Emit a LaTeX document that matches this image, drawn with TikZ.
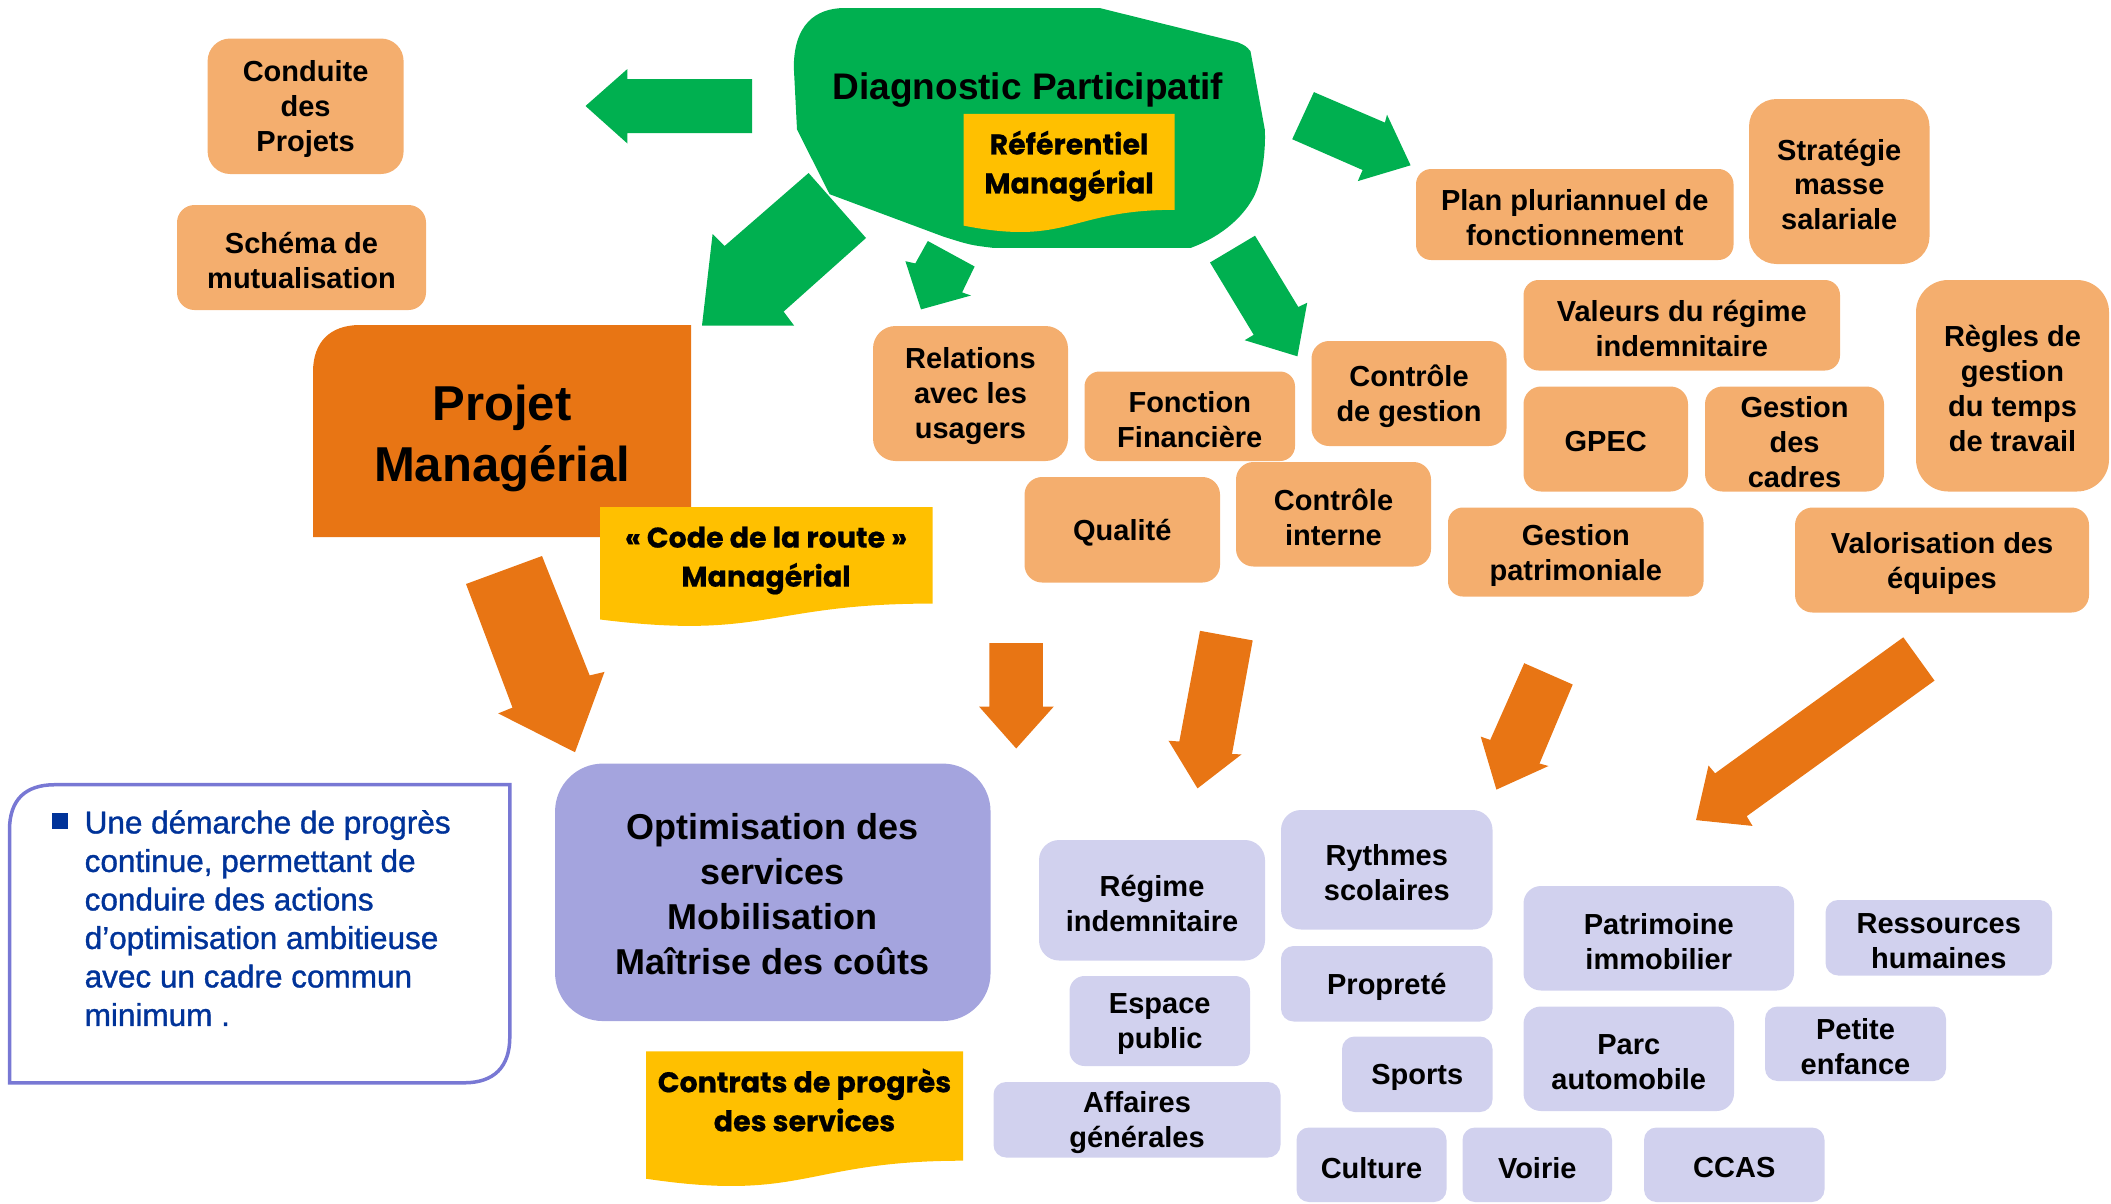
\documentclass[tikz,border=0pt]{standalone}
\usepackage{fontspec}
\setmainfont{Liberation Sans}
\newfontfamily\bannerfont{Poppins}[BoldFeatures={FakeBold=0.6}]
\newfontfamily\notefont{Liberation Sans}[FakeBold=1.1]

\definecolor{agreen}{HTML}{00B050}
\definecolor{ayellow}{HTML}{FFC000}
\definecolor{aorange}{HTML}{E87514}
\definecolor{lorange}{HTML}{F4AE6E}
\definecolor{lpurple}{HTML}{D1D1EE}
\definecolor{mpurple}{HTML}{A4A4DE}
\definecolor{bluebd}{HTML}{7878D4}
\definecolor{bluetxt}{HTML}{003399}

\tikzset{
  shape box/.style={inner sep=0pt, draw=none},
  plain txt/.style={inner sep=0pt, align=center, text=black,
    font=\bfseries\fontsize{29}{35}\selectfont},
  txt/.style={plain txt, yshift=-3pt},
  obox/.style={shape box, fill=lorange},
  pbox/.style={shape box, fill=lpurple},
  bannertxt/.style={inner sep=0pt, align=center, text=black,
    font=\bannerfont\bfseries\fontsize{28.5}{39}\selectfont},
  garrow/.style={fill=agreen},
  oarrow/.style={fill=aorange},
  ybanner/.style={fill=ayellow},
}

% rounded box with its label: [style]{name}{x1}{y1}{x2}{y2}{text}
\newcommand\rbox[7][]{%
  \pgfmathsetmacro\bw{#5-#3}%
  \pgfmathsetmacro\bh{#6-#4}%
  \pgfmathsetmacro\br{min(\bw,\bh)/6}%
  \node[#1,minimum width=\bw pt,minimum height=\bh pt,rounded corners=\br pt]
    (#2) at ({(#3+#5)/2},{(#4+#6)/2}) {};
  \node[txt] (#2-label) at (#2.center) {#7};}

% wavy "document" banner: {x0}{y0}{x1}{h}
\newcommand\banner[4]{%
  \fill[ybanner] (#1,#2) -- (#3,#2) -- (#3,{#2+0.802*#4})
    .. controls ({(#1+#3)/2},{#2+0.802*#4}) and ({(#1+#3)/2},{#2+1.1076*#4})
    .. (#1,{#2+0.934*#4}) -- cycle;}

\begin{document}
\begin{tikzpicture}[x=1pt,y=-1pt]
\useasboundingbox (0,0) rectangle (2111,1203);

% ---------- green block arrows ----------
\fill[garrow] (752,79) -- (627.4,79) -- (627.4,69) -- (585.5,106) -- (627.4,143.5) -- (627.4,133) -- (752,133) -- cycle;
\fill[garrow] (808.6,173) -- (866,238) -- (783.6,311.6) -- (794,325.5) -- (702,325.5) -- (712.6,234) -- (724.6,246) -- cycle;
\fill[garrow] (927.8,241) -- (974.6,266.5) -- (962.1,292.4) -- (971,295.5) -- (921,309.4) -- (905.4,261.2) -- (915.3,263.4) -- cycle;
\fill[garrow] (1255,235.7) -- (1298.3,307) -- (1307.2,302.7) -- (1297.4,356.3) -- (1244.7,340.2) -- (1253.7,334.8) -- (1210,262.5) -- cycle;
\fill[garrow] (1313.9,92.1) -- (1384.9,122.6) -- (1387,114.7) -- (1410.6,165.3) -- (1357.8,181.1) -- (1362.6,170) -- (1292.2,139.2) -- cycle;

% ---------- orange block arrows ----------
\fill[oarrow] (466,584) -- (542,556) -- (589.7,675.4) -- (604.5,671.9) -- (575,752.2) -- (498.2,713.4) -- (512.5,707.6) -- cycle;
\fill[oarrow] (989.3,643) -- (1042.9,643) -- (1042.9,706.5) -- (1053.8,706.5) -- (1016.2,748.5) -- (979,706.5) -- (989.3,706.5) -- cycle;
\fill[oarrow] (1200,630.8) -- (1252.7,640.4) -- (1232,754) -- (1241.5,754.4) -- (1197.5,788.4) -- (1168.5,740.7) -- (1179.3,741.5) -- cycle;
\fill[oarrow] (1524.2,663.2) -- (1572.7,684.5) -- (1539.5,763.5) -- (1548.5,766) -- (1496.4,789.6) -- (1480.7,736.6) -- (1490.2,739.9) -- cycle;
\fill[oarrow] (1903.3,637.3) -- (1934.5,680.6) -- (1746.7,816.2) -- (1752.5,825.9) -- (1696,820.1) -- (1708.5,765.5) -- (1715.1,773.3) -- cycle;

% ---------- Diagnostic participatif ----------
\fill[agreen] (793.8,67) .. controls (794,25) and (815,8) .. (845,8) -- (1099.6,8) -- (1238,42.4)
  .. controls (1246,46) .. (1250.5,51.3) -- (1264.8,129.5)
  .. controls (1266,150) and (1262,185) .. (1251.4,200.9)
  .. controls (1243,215) and (1225,235) .. (1191,247.8) -- (992.5,247.8)
  .. controls (970,245) .. (943.4,236.6) -- (829.6,194.2) -- (797,129.5) -- cycle;
\node[plain txt, anchor=base, font=\bfseries\fontsize{37}{44}\selectfont] (diag) at (1028,99) {Diagnostic Participatif};
\banner{963.5}{113.8}{1174.6}{119.7}
\node[bannertxt] (referentiel) at (1069,166) {Référentiel\\Managérial};

% ---------- left column ----------
\rbox[obox]{conduite}{207.6}{38.5}{403.6}{174}{Conduite\\des\\Projets}
\rbox[obox]{schema}{177}{205}{426}{310}{Schéma de\\mutualisation}

\fill[aorange] (313,537) -- (313,372) .. controls (313,342) and (330,325) .. (360,325) -- (691,325) -- (691,537) -- cycle;
\node[plain txt, font=\bfseries\fontsize{49}{60.5}\selectfont] (projet) at (502,438.5) {Projet\\Managérial};
\banner{600}{507}{932.6}{120.4}
\node[bannertxt] (coderoute) at (766,560.5) {«~Code de la route~»\\Managérial};

% ---------- upper right boxes ----------
\rbox[obox]{relations}{873}{326}{1068}{461}{Relations\\avec les\\usagers}
\rbox[obox]{fonction}{1084.5}{371.5}{1295}{461}{Fonction\\Financière}
\rbox[obox]{ctrlgestion}{1311.5}{341}{1506.5}{446}{Contrôle\\de gestion}
\rbox[obox]{qualite}{1024.5}{477}{1220}{582.5}{Qualité}
\rbox[obox]{ctrlinterne}{1236}{462}{1431}{566.5}{Contrôle\\interne}
\rbox[obox]{plan}{1416}{169}{1733.5}{260}{Plan pluriannuel de\\fonctionnement}
\rbox[obox]{strategie}{1749}{99}{1929.5}{264}{Stratégie\\masse\\salariale}
\rbox[obox]{valeurs}{1523.5}{280}{1840}{370.5}{Valeurs du régime\\indemnitaire}
\rbox[obox]{regles}{1916}{280}{2109}{491.5}{Règles de\\gestion\\du temps\\de travail}
\rbox[obox]{gpec}{1523.5}{386.5}{1688}{491.5}{GPEC}
\rbox[obox]{cadres}{1705}{386.5}{1884}{491.5}{Gestion\\des\\cadres}
\rbox[obox]{patrimoniale}{1448}{507.5}{1703.5}{596.5}{Gestion\\patrimoniale}
\rbox[obox]{valorisation}{1795}{507.5}{2089}{612.5}{Valorisation des\\équipes}

% ---------- note box ----------
\draw[bluebd, line width=3.5] (9.5,1082.8) -- (9.5,830) .. controls (9.5,800) and (25,784.7) .. (55,784.7)
  -- (509.8,784.7) -- (509.8,1037) .. controls (509.8,1067) and (494,1082.8) .. (464,1082.8) -- cycle;
\fill[bluetxt] (52,813) rectangle (67.6,828.6);
\node[anchor=north west, inner sep=0pt, align=left, text=bluetxt,
  font=\notefont\fontsize{31.5}{38.5}\selectfont] (demarche) at (84.5,810)
  {Une démarche de progrès\\continue, permettant de\\conduire des actions\\d’optimisation ambitieuse\\avec un cadre commun\\minimum .};

% ---------- Optimisation ----------
\node[shape box, fill=mpurple, minimum width=435.5pt, minimum height=257.5pt, rounded corners=48pt]
  (optim) at (772.8,892.3) {};
\node[plain txt, yshift=-1.5pt, font=\bfseries\fontsize{36}{45}\selectfont] (optim-label) at (optim.center)
  {Optimisation des\\services\\Mobilisation\\Maîtrise des coûts};
\banner{646}{1051.3}{963}{136.4}
\node[bannertxt] (contrats) at (804.5,1100) {Contrats de progrès\\des services};

% ---------- services ----------
\rbox[pbox]{regime}{1039}{840}{1265}{960.5}{Régime\\indemnitaire}
\rbox[pbox]{rythmes}{1281}{810}{1492.5}{929.5}{Rythmes\\scolaires}
\rbox[pbox]{espace}{1069.5}{976}{1250}{1066}{Espace\\public}
\rbox[pbox]{proprete}{1281}{946}{1492.5}{1021.5}{Propreté}
\rbox[pbox]{affaires}{993.5}{1082}{1280.5}{1157.5}{Affaires\\générales}
\rbox[pbox]{sports}{1342}{1036.5}{1492.5}{1112}{Sports}
\rbox[pbox]{culture}{1296.5}{1127.5}{1446.5}{1202}{Culture}
\rbox[pbox]{voirie}{1462.5}{1127.5}{1612}{1202}{Voirie}
\rbox[pbox]{ccas}{1644}{1127.5}{1824.5}{1202}{CCAS}
\rbox[pbox]{patrimoine}{1523.5}{886}{1794}{990.5}{Patrimoine\\immobilier}
\rbox[pbox]{ressources}{1825.5}{900}{2052}{975.5}{Ressources\\humaines}
\rbox[pbox]{parc}{1523.5}{1006.5}{1734}{1111}{Parc\\automobile}
\rbox[pbox]{petite}{1765}{1006.5}{1946}{1081}{Petite\\enfance}

\end{tikzpicture}
\end{document}
